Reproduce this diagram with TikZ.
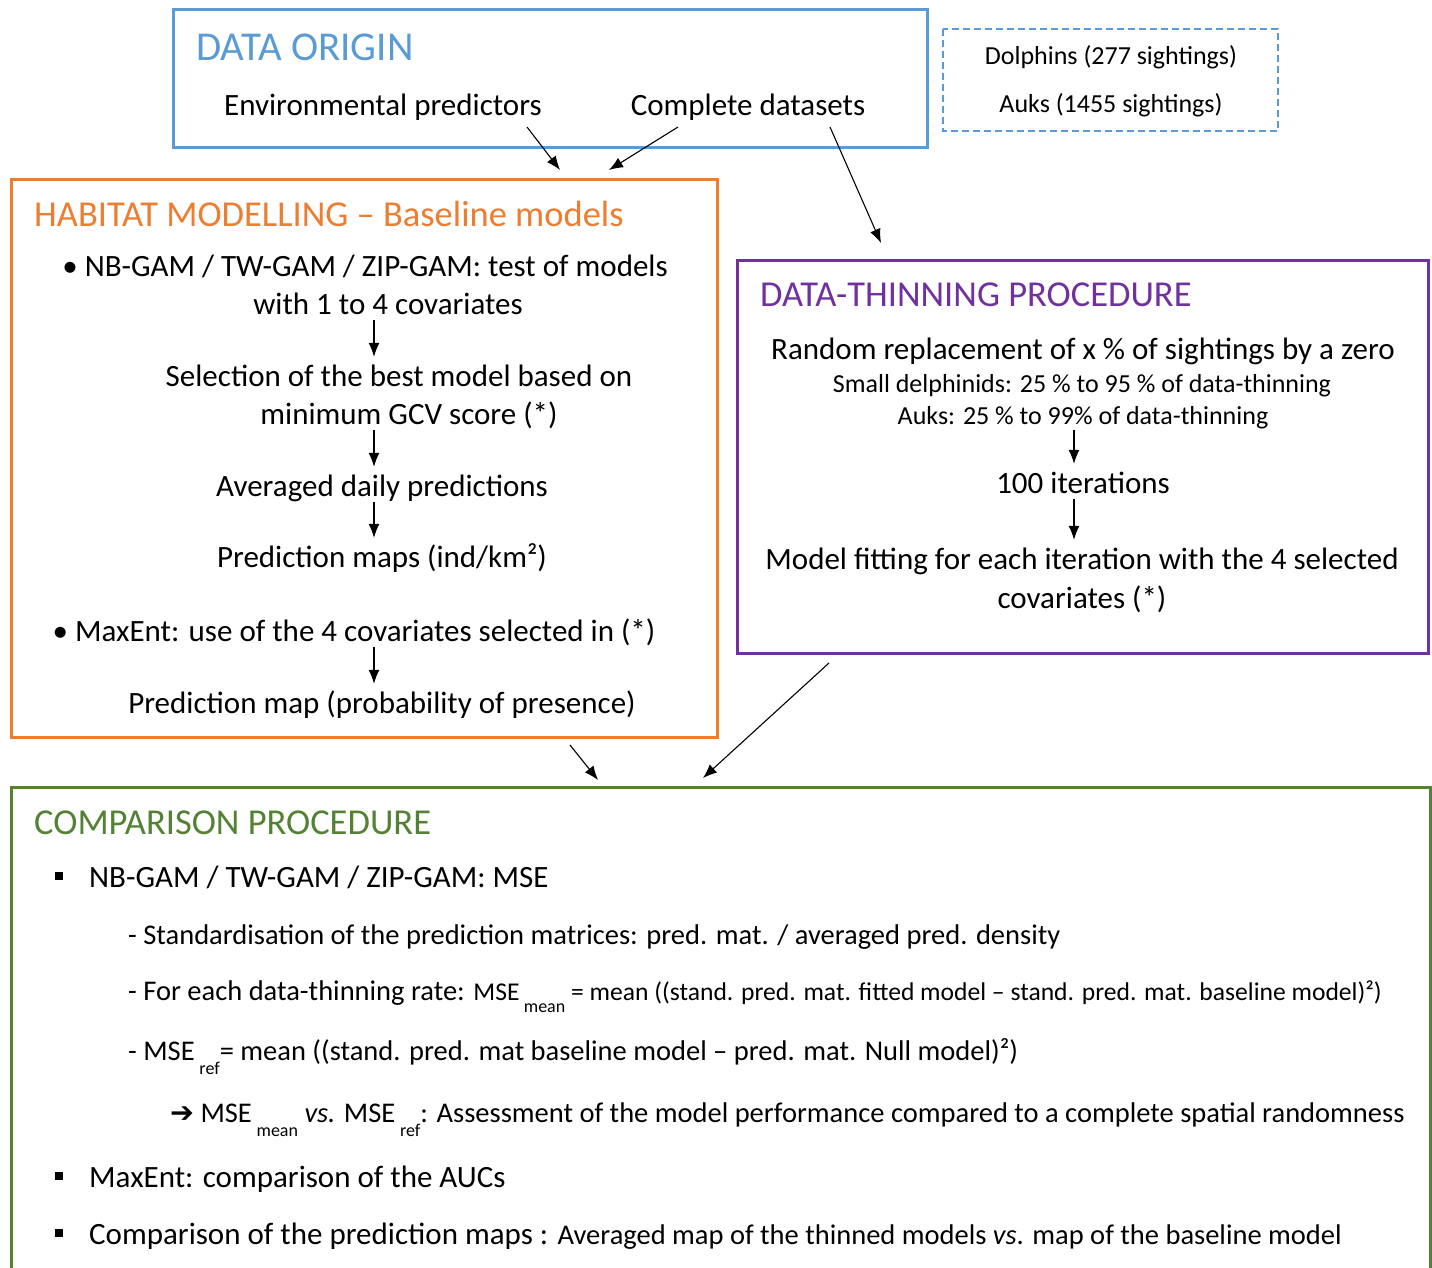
\documentclass[tikz,border=0pt]{standalone}
\usepackage{fontspec}
\setmainfont{Carlito}
\newfontfamily\symbfont{DejaVu Sans}
\usetikzlibrary{arrows.meta}

\definecolor{originblue}{HTML}{5B9BD5}
\definecolor{habitatorange}{HTML}{ED7D31}
\definecolor{thinpurple}{HTML}{7030A0}
\definecolor{compgreen}{HTML}{548235}

\newcommand{\fsz}[1]{\fontsize{#1}{#1}\selectfont}
\newcommand{\lowsub}[1]{\raisebox{-0.5em}{\fsz{18}#1}}

\begin{document}
\begin{tikzpicture}[x=1pt, y=-1pt, >=latex]

% --- Styles ---
\tikzset{
    box/.style={line width=3pt},
    txt/.style={font=\fsz{31}, inner sep=0pt, text height=25pt, text depth=3pt},
    small/.style={font=\fsz{26}, inner sep=0pt, text height=21pt, text depth=2pt},
    body/.style={font=\fsz{28.5}, inner sep=0pt, anchor=west, text height=23pt, text depth=3pt},
    title/.style={font=\fsz{36.5}, inner sep=0pt, anchor=west, text height=29pt, text depth=4pt},
    sqbullet/.style={fill=black, inner sep=0pt, minimum size=8pt},
    arr/.style={
        -{Latex[length=14pt, width=11pt]},
        line width=1.1pt,
        shorten >=4pt,
        shorten <=3pt
    }
}

\useasboundingbox (0,0) rectangle (1432,1268);

% Data origin
\draw[box, originblue] (173,10) rectangle (927,148);
\node[title, text=originblue, font=\fsz{41}] (origintitle) at (196,48) {DATA ORIGIN};
\node[txt] (envpred) at (383,105) {Environmental predictors};
\node[txt] (complete) at (748,105) {Complete datasets};

\draw[originblue, line width=2pt, dash pattern=on 7pt off 4pt] (943,29) rectangle (1278,131);
\node[small] (dolphins) at (1111,55) {Dolphins (277 sightings)};
\node[small] (auks) at (1111,103) {Auks (1455 sightings)};

% Habitat modelling
\draw[box, habitatorange] (11,180) rectangle (717,737);
\node[title, text=habitatorange] (habtitle) at (34,214) {HABITAT MODELLING -- Baseline models};
\coordinate (habarrow) at (374,0);
\node[txt] (nb1) at (365,265) {• NB-GAM / TW-GAM / ZIP-GAM: test of models};
\node[txt] (nb2) at (388,303) {with 1 to 4 covariates};
\node[txt] (sel1) at (399,375) {Selection of the best model based on};
\node[txt] (sel2) at (409,413) {minimum GCV score (*)};
\node[txt] (avg) at (382,485) {Averaged daily predictions};
\node[txt] (pmaps) at (382,556) {Prediction maps (ind/km²)};
\node[txt] (maxent) at (354,630) {• MaxEnt: use of the 4 covariates selected in (*)};
\node[txt] (pmap) at (382,702) {Prediction map (probability of presence)};

\draw[arr] (nb2.south -| habarrow) -- (sel1.north -| habarrow);
\draw[arr] (sel2.south -| habarrow) -- (avg.north -| habarrow);
\draw[arr] (avg.south -| habarrow) -- (pmaps.north -| habarrow);
\draw[arr] (maxent.south -| habarrow) -- (pmap.north -| habarrow);

% Data-thinning procedure
\draw[box, thinpurple] (737,260) rectangle (1428,653);
\node[title, text=thinpurple] (thintitle) at (760,294) {DATA-THINNING PROCEDURE};
\coordinate (thinarrow) at (1074,0);
\node[txt] (random) at (1083,348) {Random replacement of x \% of sightings by a zero};
\node[small] (delph) at (1082,383) {Small delphinids: 25 \% to 95 \% of data-thinning};
\node[small] (aukrate) at (1083,415) {Auks: 25 \% to 99\% of data-thinning};
\node[txt] (iter) at (1083,482) {100 iterations};
\node[txt] (fit1) at (1082,558) {Model fitting for each iteration with the 4 selected};
\node[txt] (fit2) at (1082,597) {covariates (*)};

\draw[arr] (aukrate.south -| thinarrow) -- (iter.north -| thinarrow);
\draw[arr] (iter.south -| thinarrow) -- (fit1.north -| thinarrow);

% Comparison procedure
\draw[box, compgreen] (11,1275) -- (11,787) -- (1430,787) -- (1430,1275);
\node[title, text=compgreen] (comptitle) at (34,822) {COMPARISON PROCEDURE};
\node[sqbullet] (mark1) at (59,876) {};
\node[txt, anchor=west] (gams) at (89,876) {NB-GAM / TW-GAM / ZIP-GAM: MSE};
\node[body] (stdz) at (128,934) {- Standardisation of the prediction matrices: pred. mat. / averaged pred. density};
\node[body] (msemean) at (128,990) {- For each data-thinning rate: {\fsz{25.6}MSE\,\lowsub{mean} = mean ((stand. pred. mat. fitted model -- stand. pred. mat. baseline model)²)}};
\node[body] (mseref) at (128,1050) {- MSE\,\lowsub{ref}= mean ((stand. pred. mat baseline model -- pred. mat. Null model)²)};
\node[body] (versus) at (170,1112) {{\symbfont\bfseries ➔} MSE\,\lowsub{mean} \textit{vs.} MSE\,\lowsub{ref}: Assessment of the model performance compared to a complete spatial randomness};
\node[sqbullet] (mark2) at (59,1176) {};
\node[txt, anchor=west] (auc) at (89,1176) {MaxEnt: comparison of the AUCs};
\node[sqbullet] (mark3) at (59,1233) {};
\node[txt, anchor=west] (maps) at (89,1233) {Comparison of the prediction maps : {\fsz{28.5}Averaged map of the thinned models \textit{vs}. map of the baseline model}};

% Connectors between the blocks
\coordinate (envout) at (527,127);
\coordinate (compout) at (678,127);
\coordinate (compout2) at (830,127);
\coordinate (habin1) at (560,170);
\coordinate (habin2) at (609,170);
\coordinate (thinin) at (881,243);
\coordinate (habout) at (570,745);
\coordinate (thinout) at (829,663);
\coordinate (compin1) at (598,780);
\coordinate (compin2) at (703,778);

\draw[arr, shorten <=0pt, shorten >=0pt] (envout) -- (habin1);
\draw[arr, shorten <=0pt, shorten >=0pt] (compout) -- (habin2);
\draw[arr, shorten <=0pt, shorten >=0pt] (compout2) -- (thinin);
\draw[arr, shorten <=0pt, shorten >=0pt] (habout) -- (compin1);
\draw[arr, shorten <=0pt, shorten >=0pt] (thinout) -- (compin2);

\end{tikzpicture}
\end{document}
